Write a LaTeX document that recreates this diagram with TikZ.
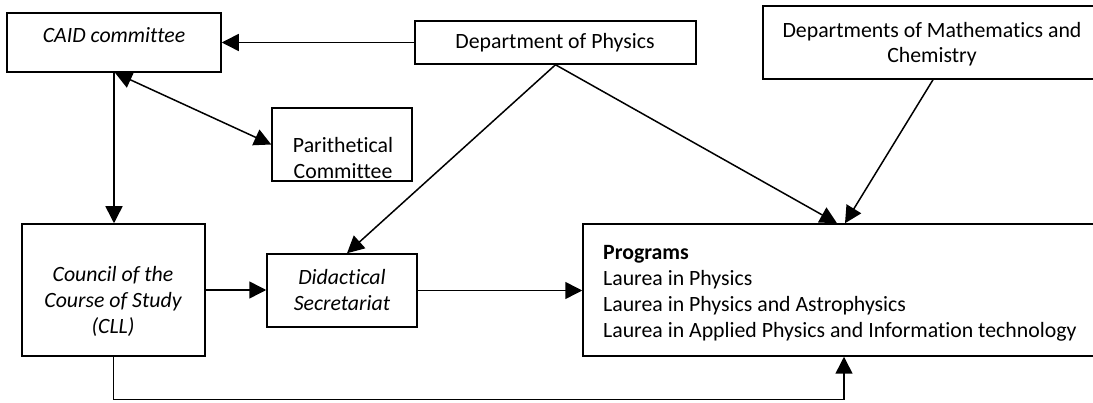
\documentclass[tikz,border=0pt]{standalone}
\usepackage{fontspec}
\setmainfont[Ligatures=NoCommon]{Carlito}
\usetikzlibrary{arrows.meta,calc}
\begin{document}
\begin{tikzpicture}[x=1pt,y=-1pt,
  box/.style={draw, line width=1.5pt, rectangle, inner sep=0pt},
  lbl/.style={anchor=base, inner sep=0pt, font=\fontsize{21.8}{26}\selectfont},
  ilbl/.style={lbl, font=\fontsize{21.8}{26}\selectfont\itshape},
  conn/.style={line width=1.5pt, -{Triangle[length=17pt,width=17pt]}},
  dconn/.style={line width=1.5pt, {Triangle[length=17pt,width=17pt]}-{Triangle[length=17pt,width=17pt]}}]
\useasboundingbox (0,0) rectangle (1093,403);
\clip (0,0) rectangle (1093,403);
% boxes
\node[box, minimum width=214pt, minimum height=59pt] (caid) at (114,42.5) {};
\node[box, minimum width=281pt, minimum height=43pt] (phys) at (555.5,42.5) {};
\node[box, minimum width=337pt, minimum height=73pt] (math) at (931.5,42.5) {};
\node[box, minimum width=140pt, minimum height=73pt] (parith) at (342,144.5) {};
\node[box, minimum width=183pt, minimum height=132pt] (council) at (113.5,290) {};
\node[box, minimum width=150pt, minimum height=73pt] (didact) at (342,290.5) {};
\node[box, minimum width=517pt, minimum height=132pt] (prog) at (841.5,290) {};
% texts
\node[ilbl] (caidT) at (114,43) {CAID committee};
\node[lbl] (physT) at (555,49) {Department of Physics};
\node[lbl, font=\fontsize{21.8}{25}\selectfont] (mathT) at (932,38) {\begin{tabular}[t]{@{}c@{}}Departments of Mathematics and\\Chemistry\end{tabular}};
\node[lbl] (parithT) at (343,152.5) {\begin{tabular}[t]{@{}c@{}}Parithetical\\Committee\end{tabular}};
\node[ilbl] (councilT) at (113,282) {\begin{tabular}[t]{@{}c@{}}Council of the\\Course of Study\\(CLL)\end{tabular}};
\node[ilbl] (didactT) at (342,285) {\begin{tabular}[t]{@{}c@{}}Didactical\\Secretariat\end{tabular}};
\node[lbl, anchor=base west] (progT) at (603,260) {\begin{tabular}[t]{@{}l@{}}\textbf{Programs}\\Laurea in Physics\\Laurea in Physics and Astrophysics\\Laurea in Applied Physics and Information technology\end{tabular}};
% anchor points
\coordinate (caidS) at ($(caid.south)+(1,0)$);
\coordinate (didN) at ($(didact.north)+(5,0)$);
\coordinate (progN1) at ($(prog.north)+(-4.5,0)$);
\coordinate (progN2) at ($(prog.north)+(3.5,0)$);
\coordinate (progS) at ($(prog.south)+(2.5,0)$);
\coordinate (mathS) at ($(math.south)+(1.5,0)$);
% connectors
\draw[conn] (phys.west) -- (caid.east);
\draw[conn] (caid.south) -- (caid.south |- council.north);
\draw[dconn] (caidS) -- (parith.west);
\draw[conn] (phys.south) -- (didN);
\draw[conn] (phys.south) -- (progN1);
\draw[conn] (mathS) -- (progN2);
\draw[conn] (council.east) -- (council.east -| didact.west);
\draw[conn] (didact.east) -- (didact.east -| prog.west);
\draw[conn] (council.south) -- ++(0,43) -| (progS);
\end{tikzpicture}
\end{document}
